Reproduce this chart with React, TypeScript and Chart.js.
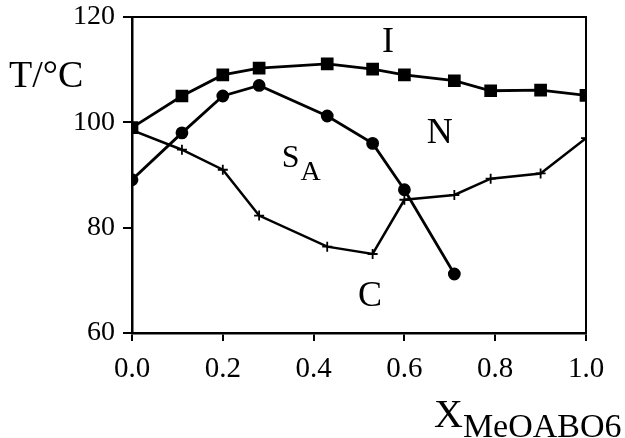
import { useEffect, useRef } from 'react';
import { Chart, registerables } from 'chart.js';
Chart.register(...registerables);

const xI = [0, 0.11, 0.2, 0.28, 0.43, 0.53, 0.6, 0.71, 0.79, 0.9, 1.0];
const tI = [99, 105, 109, 110.3, 111.1, 110.1, 109, 107.9, 106, 106.1, 105.1];
const xSA = [0, 0.11, 0.2, 0.28, 0.43, 0.53, 0.6, 0.71];
const tSA = [89.1, 98, 105, 107, 101.2, 96, 87.2, 71.2];
const xC = [0, 0.11, 0.2, 0.28, 0.43, 0.53, 0.6, 0.71, 0.79, 0.9, 1.0];
const tC = [98.5, 94.8, 91, 82.3, 76.4, 75, 85.3, 86.2, 89.3, 90.3, 97];

const xMin = 0, xMax = 1.0, xStep = 0.2;
const yMin = 60, yMax = 120, yStep = 20;

const phaseLabels = [
  { text: 'I', sub: '', x: 0.564, y: 113.35, size: 36, align: 'center' },
  { text: 'N', sub: '', x: 0.678, y: 96.1, size: 36, align: 'center' },
  { text: 'S', sub: 'A', x: 0.33, y: 91.5, size: 32, align: 'left' },
  { text: 'C', sub: '', x: 0.524, y: 65.1, size: 36, align: 'center' },
];

const FONT = '"Liberation Serif", "Times New Roman", serif';

const toPts = (xs: number[], ys: number[]) => xs.map((x, i) => ({ x, y: ys[i] }));

export default function App() {
  const ref = useRef<HTMLCanvasElement | null>(null);
  useEffect(() => {
    if (!ref.current) return;
    const annot = {
      id: 'annot',
      afterDraw(chart: any) {
        const ctx = chart.ctx;
        const a = chart.chartArea;
        const xs = chart.scales.x;
        const ys = chart.scales.y;
        ctx.save();
        ctx.strokeStyle = '#000';
        ctx.lineWidth = 2;
        ctx.beginPath();
        ctx.moveTo(a.left, a.top);
        ctx.lineTo(a.right, a.top);
        ctx.lineTo(a.right, a.bottom);
        ctx.stroke();
        ctx.fillStyle = '#000';
        ctx.textBaseline = 'alphabetic';
        for (const l of phaseLabels) {
          const px = xs.getPixelForValue(l.x);
          const py = ys.getPixelForValue(l.y);
          ctx.font = `${l.size}px ${FONT}`;
          ctx.textAlign = l.align;
          ctx.fillText(l.text, px, py);
          if (l.sub) {
            const w = ctx.measureText(l.text).width;
            ctx.font = `${l.size - 4}px ${FONT}`;
            ctx.textAlign = 'left';
            ctx.fillText(l.sub, px + w + 1, py + 13);
          }
        }
        // axis titles
        ctx.textAlign = 'left';
        ctx.font = `38px ${FONT}`;
        ctx.fillText('T/°C', 9, 87);
        ctx.font = `40px ${FONT}`;
        ctx.fillText('X', 434, 427);
        const wx = ctx.measureText('X').width;
        ctx.font = `34px ${FONT}`;
        ctx.fillText('MeOABO6', 434 + wx, 437);
        ctx.restore();
      },
    };
    const chart = new Chart(ref.current, {
      type: 'scatter',
      data: {
        datasets: [
          {
            data: toPts(xI, tI),
            showLine: true,
            borderColor: '#000',
            backgroundColor: '#000',
            borderWidth: 2.8,
            pointStyle: 'rect',
            pointRadius: 7,
          },
          {
            data: toPts(xSA, tSA),
            showLine: true,
            borderColor: '#000',
            backgroundColor: '#000',
            borderWidth: 2.8,
            pointStyle: 'circle',
            pointRadius: 5,
          },
          {
            data: toPts(xC, tC),
            showLine: true,
            borderColor: '#000',
            backgroundColor: '#000',
            borderWidth: 2.5,
            pointStyle: 'cross',
            pointRadius: 5,
            pointBorderWidth: 1.8,
          },
        ],
      },
      options: {
        animation: false,
        responsive: false,
        layout: { padding: { top: 17, right: 39, left: 0, bottom: 0 } },
        plugins: { legend: { display: false }, tooltip: { enabled: false } },
        scales: {
          x: {
            type: 'linear',
            min: xMin,
            max: xMax,
            afterFit: (s: any) => { s.height = 105; s.paddingLeft = 0; s.paddingRight = 0; },
            ticks: {
              stepSize: xStep,
              color: '#000',
              padding: 11,
              font: { family: FONT, size: 29 },
              callback: (v: any) => Number(v).toFixed(1),
            },
            grid: { display: true, drawOnChartArea: false, drawTicks: true, tickLength: 8, color: '#000', lineWidth: 2 },
            border: { display: true, color: '#000', width: 2.5 },
          },
          y: {
            type: 'linear',
            min: yMin,
            max: yMax,
            afterFit: (s: any) => { s.width = 132; s.paddingTop = 0; s.paddingBottom = 0; },
            ticks: {
              stepSize: yStep,
              color: '#000',
              padding: 8,
              font: { family: FONT, size: 28 },
            },
            grid: { display: true, drawOnChartArea: false, drawTicks: true, tickLength: 9, color: '#000', lineWidth: 2 },
            border: { display: true, color: '#000', width: 2.5 },
          },
        },
      },
      plugins: [annot],
    } as any);
    return () => chart.destroy();
  }, []);
  return (
    <div style={{ position: 'absolute', left: 0, top: 0, width: 625, height: 438, background: '#fff' }}>
      <canvas ref={ref} width={625} height={438} />
    </div>
  );
}
